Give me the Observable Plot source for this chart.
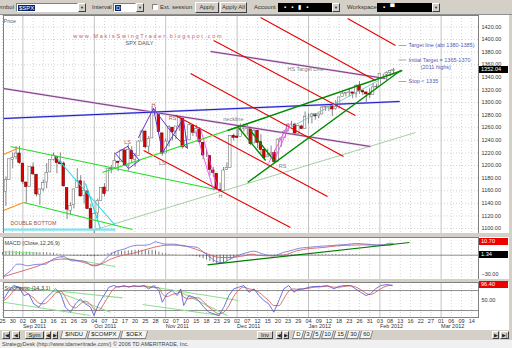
<!DOCTYPE html>
<html><head><meta charset="utf-8">
<script src="https://cdn.jsdelivr.net/npm/d3@7"></script>
<script src="https://cdn.jsdelivr.net/npm/@observablehq/plot@0.6"></script>
<style>
html,body{margin:0;padding:0}
body{width:512px;height:348px;overflow:hidden;background:#d4d0c8;position:relative;font-family:"Liberation Sans",Arial,sans-serif;font-size:6px;color:#222}
.a{position:absolute;white-space:nowrap}
.lbl{top:4px;line-height:7px;color:#333}
.inp{top:3px;height:9px;background:#fff;border:1px solid;border-color:#808080 #fff #fff #808080;box-sizing:border-box}
.sel{position:absolute;left:1px;top:1px;background:#0a246a;color:#fff;line-height:6px;padding:0 1px}
.dd{top:3px;width:8px;height:9px;background:#d4d0c8;border:1px solid;border-color:#fff #404040 #404040 #fff;box-sizing:border-box;font-size:4px;line-height:7px;text-align:center}
.btn{top:2px;height:11px;background:#d4d0c8;border:1px solid;border-color:#fff #404040 #404040 #fff;box-sizing:border-box;text-align:center;line-height:9px;color:#333}
.blk{top:3px;height:9px;background:#000;color:#fff;box-sizing:border-box;line-height:9px;font-size:6px;padding-left:6px;letter-spacing:5px}
.cb{top:4px;width:6px;height:6px;background:#fff;border:1px solid;border-color:#808080 #fff #fff #808080;box-sizing:border-box}
#price{left:0;top:15px}
#macd{left:0;top:237px}
#stoch{left:0;top:282px}
.flag{left:479px;width:29px;height:7px;line-height:7px;font-size:5.6px;color:#fff;padding-left:2px;box-sizing:border-box;z-index:5}
.tb{top:331px;height:8px;border:1px solid;border-color:#fff #404040 #404040 #fff;box-sizing:border-box;background:#d4d0c8;text-align:center;line-height:6px;font-size:5px}
.tab{top:331px;height:8px;border:1px solid #808080;border-top:none;box-sizing:border-box;background:#f4f4f4;text-align:center;line-height:7px;font-size:6px;transform:skewX(-15deg)}
.tab span{display:inline-block;transform:skewX(15deg)}
#foot{left:0;top:340px;width:512px;height:8px;background:#f0f0f0;font-size:5.5px;line-height:8px;color:#444;padding-left:2px;box-sizing:border-box}
</style></head><body>
<div class="a" style="left:0;top:0;width:512px;height:15px;background:#d4d0c8;border-bottom:1px solid #909090;box-sizing:border-box"></div>
<div class="a lbl" style="left:-6px">Symbol</div>
<div class="a inp" style="left:16px;width:62px"><span class="sel">$SPX</span></div>
<div class="a dd" style="left:78px">▼</div>
<div class="a lbl" style="left:92px">Interval</div>
<div class="a inp" style="left:113px;width:23px"><span class="sel">D</span></div>
<div class="a dd" style="left:136px">▼</div>
<div class="a cb" style="left:152px"></div>
<div class="a lbl" style="left:160px">Ext. session</div>
<div class="a btn" style="left:195px;width:24px">Apply</div>
<div class="a btn" style="left:220px;width:27px">Apply All</div>
<div class="a lbl" style="left:254px">Account</div>
<div class="a blk" style="left:278px;width:54px">▪▪▮▪</div>
<div class="a dd" style="left:332px">▼</div>
<div class="a lbl" style="left:347px">Workspace:</div>
<div class="a blk" style="left:377px;width:55px">▪▀</div>
<div class="a dd" style="left:432px">▼</div>

<div id="price" class="a"></div>
<div id="macd" class="a"></div>
<div id="stoch" class="a"></div>

<div class="a tb" style="left:2px;width:8px">|◀</div>
<div class="a tb" style="left:12px;width:8px">◀</div>
<div class="a tb" style="left:25px;width:19px;font-size:6px;line-height:6px">Sym</div>
<div class="a tb" style="left:45px;width:6px">◀</div>
<div class="a tb" style="left:52px;width:6px">▶</div>
<div class="a tab" style="left:61px;width:26px"><span>$INDU</span></div>
<div class="a tab" style="left:88px;width:32px"><span>$COMPX</span></div>
<div class="a tab" style="left:121px;width:26px"><span>$OEX</span></div>
<div class="a tb" style="left:257px;width:16px;font-size:6px;line-height:6px">Inv</div>
<div class="a tb" style="left:276px;width:6px">◀</div>
<div class="a tb" style="left:283px;width:6px">▶</div>
<div class="a tab" style="left:293px;width:10px;background:#fff"><span>D</span></div>
<div class="a tab" style="left:304px;width:8px"><span>3</span></div>
<div class="a tab" style="left:313px;width:8px"><span>5</span></div>
<div class="a tab" style="left:322px;width:11px"><span>10</span></div>
<div class="a tab" style="left:334px;width:12px"><span>15</span></div>
<div class="a tab" style="left:347px;width:12px"><span>30</span></div>
<div class="a tab" style="left:360px;width:12px"><span>60</span></div>
<div class="a tb" style="left:492px;width:7px">▶</div>
<div class="a tb" style="left:500px;width:9px">▶|</div>
<div id="foot" class="a">StrategyDesk (http://www.tdameritrade.com/) © 2006 TD AMERITRADE, Inc.</div>

<script>
// ---------- DATA ----------
const dates = ["2011-08-25","2011-08-26","2011-08-29","2011-08-30","2011-08-31",
"2011-09-01","2011-09-02","2011-09-06","2011-09-07","2011-09-08","2011-09-09","2011-09-12","2011-09-13","2011-09-14","2011-09-15","2011-09-16","2011-09-19","2011-09-20","2011-09-21","2011-09-22","2011-09-23","2011-09-26","2011-09-27","2011-09-28","2011-09-29","2011-09-30",
"2011-10-03","2011-10-04","2011-10-05","2011-10-06","2011-10-07","2011-10-10","2011-10-11","2011-10-12","2011-10-13","2011-10-14","2011-10-17","2011-10-18","2011-10-19","2011-10-20","2011-10-21","2011-10-24","2011-10-25","2011-10-26","2011-10-27","2011-10-28","2011-10-31",
"2011-11-01","2011-11-02","2011-11-03","2011-11-04","2011-11-07","2011-11-08","2011-11-09","2011-11-10","2011-11-11","2011-11-14","2011-11-15","2011-11-16","2011-11-17","2011-11-18","2011-11-21","2011-11-22","2011-11-23","2011-11-25","2011-11-28","2011-11-29","2011-11-30",
"2011-12-01","2011-12-02","2011-12-05","2011-12-06","2011-12-07","2011-12-08","2011-12-09","2011-12-12","2011-12-13","2011-12-14","2011-12-15","2011-12-16","2011-12-19","2011-12-20","2011-12-21","2011-12-22","2011-12-23","2011-12-27","2011-12-28","2011-12-29","2011-12-30",
"2012-01-03","2012-01-04","2012-01-05","2012-01-06","2012-01-09","2012-01-10","2012-01-11","2012-01-12","2012-01-13","2012-01-17","2012-01-18","2012-01-19","2012-01-20","2012-01-23","2012-01-24","2012-01-25","2012-01-26","2012-01-27","2012-01-30","2012-01-31",
"2012-02-01","2012-02-02","2012-02-03","2012-02-06","2012-02-07","2012-02-08","2012-02-09"];
const open = [1176,1158,1177,1209,1213,
1219,1203,1173,1166,1197,1185,1153,1162,1173,1189,1209,1214,1205,1203,1164,1128,1137,1164,1175,1152,1159,
1131,1097,1124,1144,1165,1159,1194,1196,1206,1206,1224,1200,1223,1209,1215,1238,1254,1230,1243,1284,1284,
1251,1219,1238,1260,1253,1262,1275,1230,1240,1263,1251,1257,1236,1216,1215,1192,1187,1161,1159,1193,1196,
1247,1246,1245,1258,1258,1260,1235,1255,1237,1225,1213,1217,1220,1206,1241,1244,1254,1265,1265,1250,1262,
1258,1277,1277,1281,1278,1281,1292,1293,1295,1290,1293,1309,1314,1315,1316,1314,1327,1318,1316,1314,
1312,1324,1326,1344,1344,1347,1350];
const high = [1190,1182,1210,1220,1230,
1230,1203,1173,1198,1204,1186,1163,1177,1203,1209,1220,1214,1220,1206,1164,1141,1163,1195,1184,1175,1159,
1138,1125,1147,1165,1171,1195,1200,1220,1207,1224,1224,1233,1230,1219,1239,1256,1254,1246,1293,1292,1284,
1251,1242,1263,1260,1262,1277,1275,1246,1266,1264,1264,1260,1237,1224,1215,1197,1187,1172,1197,1204,1247,
1250,1260,1266,1266,1267,1260,1258,1255,1249,1225,1226,1231,1224,1242,1245,1255,1265,1270,1267,1264,1264,
1285,1282,1283,1282,1282,1296,1294,1297,1295,1303,1308,1316,1315,1322,1316,1328,1333,1320,1316,1322,
1330,1329,1345,1345,1349,1351,1354];
const low = [1155,1135,1177,1195,1209,
1202,1170,1140,1166,1184,1150,1137,1158,1163,1189,1207,1187,1201,1166,1114,1121,1131,1164,1150,1139,1131,
1098,1075,1115,1144,1150,1159,1187,1196,1190,1206,1198,1191,1204,1197,1215,1238,1226,1220,1243,1281,1253,
1215,1219,1229,1239,1241,1254,1226,1227,1240,1246,1245,1235,1209,1213,1183,1181,1161,1158,1159,1192,1196,
1239,1243,1245,1253,1247,1231,1235,1227,1219,1209,1213,1215,1202,1206,1229,1243,1254,1262,1248,1250,1257,
1258,1266,1266,1272,1274,1281,1286,1286,1278,1288,1290,1309,1309,1309,1306,1307,1313,1311,1300,1306,
1312,1321,1326,1338,1335,1341,1344];
const close = [1159,1177,1210,1212,1219,
1204,1174,1166,1198,1186,1154,1162,1172,1188,1209,1216,1204,1202,1167,1130,1136,1162,1175,1151,1160,1131,
1099,1123,1144,1164,1155,1195,1195,1207,1204,1224,1200,1225,1210,1215,1238,1254,1229,1242,1285,1285,1253,
1219,1238,1261,1253,1262,1276,1229,1239,1264,1252,1258,1237,1216,1216,1193,1188,1162,1159,1192,1196,1247,
1244,1244,1257,1259,1262,1234,1255,1236,1225,1212,1216,1219,1205,1241,1243,1254,1265,1265,1250,1263,1258,
1277,1277,1281,1278,1281,1292,1293,1296,1289,1293,1308,1314,1315,1316,1314,1326,1318,1316,1313,1312,
1324,1325,1345,1344,1347,1350,1352.04];

// date axis (trading-day index) ticks
const tickIdx = [0,3,6,9,12,15,18,21,24,27,30,33,36,39,42,45,48,51,54,57,60,63,66,69,72,75,78,81,84,87,90,93,96,99,102,105,108,111,114,117,120,123,126,129,132,135,138];
const tickLabel = ["25","30","02","08","13","16","21","26","29","04","07","12","17","20","25","28","02","07","10","15","18","23","29","02","07","12","15","20","23","29","04","09","12","18","23","26","31","03","08","13","16","22","27","01","06","09","14"];
const monthIdx = [6,27,48,69,90,111,129];
const monthLabel = ["Sep 2011","Oct 2011","Nov 2011","Dec 2011","Jan 2012","Feb 2012","Mar 2012"];
const priceTicks = [1100,1120,1140,1160,1180,1200,1220,1240,1260,1280,1300,1320,1340,1360,1380,1400,1420];

// drawn trend lines: [index1, price1, index2, price2]
const redLines = [[101.5,1433.3,115.6,1390.5],[75.9,1434.9,109.7,1334.9],[62.1,1398.4,103.8,1279.4],[55.3,1346,100.3,1214.3],[50.9,1279.4,95.6,1150.8],[41.5,1223.8,84.7,1101.6]];
const purpleLines = [[0.3,1322.2,108.2,1230.2],[61.2,1381,112.6,1338.1]];
const blueLines = [[0.3,1274.6,116.8,1301.6]];
const brightGreenLines = [[2.35,1230.2,62.6,1161.9],[6.2,1141.3,38.2,1098.4],[29.4,1188.9,77.4,1276.2]];
const darkGreenLines = [[66.2,1255.6,117.6,1350.8],[72.1,1173,117.1,1350.8],[69.4,1260.3,77.4,1208],[72.9,1255.6,80.3,1204.8]];
const thinGreenLines = [[27.4,1098.4,121.5,1252.4]];
const cyanLines = [[15.6,1214.3,33.2,1104.8],[24.4,1171.4,28.8,1100]];
const cyanBase = [[0.3,1098.4,33.2,1098.4]];
const orangeLines = [[0.3,1217.5,4.4,1227],[0.3,1128.6,6.2,1141.3]];
const tealLines = [[81.8,1252.4,110.6,1334.9]];
const magentaLines = [[58.2,1258.7,63.5,1160.3],[56.8,1255.6,62.1,1160.3],[78.2,1203.2,84.1,1266.7],[80.3,1212.7,84.7,1266.7]];
const lsDiamond = [[36.8,1230.2],[40.3,1208],[37.1,1195.2],[33.2,1219],[36.8,1230.2]];
const headPath = [[40,1244.4],[44.4,1290.5],[47.1,1220.6],[53.2,1274.6],[54.4,1227],[50,1250.8],[44.4,1290.5]];

// annotations [index, price, text]
const redMarks = [[36.8,1236.5,"LS"],[44.4,1296,"H"],[50,1274.6,"RS"]];
const grayMarks = [[47,1203,"LS"],[64.1,1150.8,"H"],[82.4,1198.4,"RS"],[67.9,1273,"neckline"]];
const targetNotes = [[119.4,1390.5,"Target line (abt 1380-1385)"],[119.4,1367.5,"Initial Target = 1365-1370"],[123,1356.5,"(2011 highs)"],[119.4,1333.3,"Stop < 1335"]];
const leaderLines = [[116.5,1390.5,118.8,1390.5],[116.5,1367.5,118.8,1367.5],[116.5,1333.3,118.8,1333.3]];

// MACD panel
const macdLine = [[0.4,-33.3],[2.4,-25],[4.3,-14.5],[5.3,-14.5],[7.3,-17],[9.2,-15.5],[11.2,-14.5],[12.6,-14.5],[14.1,-9],[16.1,-3.7],[18,-2],[19,-5.3],[20.5,-9],[22.9,-9],[24.9,-11.8],[26.4,-17],[27.8,-17],[29.8,-9],[31.8,1.7],[33.7,7],[35.7,9.7],[37.6,14],[39.6,16],[41.6,16],[43.5,17.8],[45,21.6],[46.5,19.4],[47.9,17.8],[50.4,17.8],[52.8,15],[55.3,14],[57.3,12.4],[59.2,4.4],[61.2,-3.7],[63.1,-10.7],[64.6,-11.8],[67,-6.4],[69,-1],[72,4.4],[73.9,6.5],[76.7,1.7],[79.6,-1],[82.6,4.4],[84.5,7],[87.4,11.3],[89.4,12.4],[92.4,14],[95.3,15],[98.2,16.2],[101.2,17.3],[104.1,18.9],[107.1,17.8],[110,16.7],[112,16.7],[113.9,19.4],[114.9,18.3]];
const signalLine = [[0.4,-34.4],[9.2,-19.8],[17,-6.4],[19,-6.4],[23.9,-11.8],[26.9,-16],[28.8,-14.5],[31.8,-6.4],[34.7,-1],[38.6,3.3],[42.5,9.7],[46.5,15],[48.4,16.2],[52.4,16.2],[55.3,12.4],[58.2,7],[61.2,0],[64.1,-3.7],[67,-3.7],[70,-2],[73.9,1.7],[74.7,0],[78.6,-1],[82.6,0],[86.5,7],[90.4,10.8],[94.3,12.4],[98.2,15],[102.2,16.2],[106.1,16.7],[110,16.2],[113.9,16.2],[114.9,17.3]];
const macdHist = [4,6,6.5,6.5,6,5.5,5,5,5,4.5,4,4,4,4,3.5,3,
2,1.5,1,0.5,-1,-1.5,-1.5,-1.5,-1.5,-2,-2.5,-2.5,-2,-1,
1,2.5,3.5,5,5.5,6,6.5,7,7.5,7.5,8,8,8,7.5,7.5,7,5,
3,2,1.5,1,1,0.5,0,-0.5,-1,-1.5,-2.5,
-4,-6,-8,-10,-12,-14,-14.5,-13,-10,-7,-4,-1.5,
0.5,1,1.5,1.5,1,0.5,0.5,0.5,0.5,0.5,1,1,1,1,1,1,1,1,1,1,1,1,1,1,1,1,1,1,1,1,1,1,1,1,1,0.5,0.5,0.5,0.5,0.5,0,0,0,0,0,0];
const macdLightTrend = [[0.3,5.5,11.2,3.2],[17.1,-3.7,33.2,-18.2]];
const macdDarkTrend = [[60.3,-15.5,119.7,20.5]];
const macdTicks = [-30];

// Stochastic panel
const stochIdx = [0.4,1.9,3.3,4.8,6.3,7.7,9.2,10.7,12.2,14.1,15.6,17.1,18.5,20,21.5,22.9,24.4,25.9,26.9,28.3,29.8,31.3,32.7,34.2,35.7,37.2,38.6,40.1,41.6,43,44.5,46,47,48.4,49.9,51.4,52.4,53.3,54.8,56.3,57.7,59.2,60.7,62.2,63.6,65.1,66.6,68,69.5,71,72.5,74,75.4,76.9,78.3,79.8,81.3,82.7,84.2,85.7,87.2,88.6,90.1,91.6,93.5,95.5,97.5,98.9,100.4,102.4,103.8,105.3,106.9,108.2,109.7,111.2,113.1,114.6];
const stochK = [55,80,95,90,65,70,40,30,50,70,85,70,30,15,40,55,40,30,5,40,65,90,95,90,95,90,95,92,95,85,95,80,45,70,80,65,85,35,65,60,50,30,15,10,5,30,65,85,90,95,75,85,65,50,40,15,50,85,95,75,85,85,90,92,92,95,85,92,95,95,85,75,65,70,85,95,98,95];
const stochD = [50,62,80,90,80,68,58,42,40,55,72,78,60,35,28,40,48,38,25,20,40,65,85,92,92,92,92,93,93,90,90,88,70,62,68,72,75,60,55,58,58,45,30,18,10,15,35,62,82,90,85,82,75,62,50,35,35,55,78,85,83,85,87,90,91,93,90,90,92,94,91,83,72,68,75,85,94,96];
const stochTrend = [[3.2,91.9,15.6,77.8],[15,79.9,35.3,58],[15,79.9,31.8,14.8],[0.3,44.8,25.9,4.9],[41.5,94.9,69.4,49.9],[52.4,74.8,66.1,4.9],[41.2,37.9,64.1,4.9]];
const stochLevels = [80,20];
const stochTicks = [50];

// current-value flags
const priceFlag = {v: close[close.length-1], t: "1352.04"};
const macdFlags = [{v: 20.5, t: "10.70", bg: "#ee0000"}, {v: 0, t: "1.34", bg: "#000"}];
const stochFlag = {v: 96, t: "96.40"};

// ---------- RENDER ----------
const FONT = "Liberation Sans, Arial, sans-serif";
const W = 509, ML = 3, MR = 31;
const X = {domain: [0.294, 140], axis: null};
const seg = (data, o) => Plot.link(data, {x1: d => d[0], y1: d => d[1], x2: d => d[2], y2: d => d[3], clip: true, ...o});
const candles = dates.map((d, i) => ({i, o: open[i], h: high[i], l: low[i], c: close[i]}));
const tickMap = new Map(tickIdx.map((d, i) => [d, tickLabel[i]]));
const monthMap = new Map(monthIdx.map((d, i) => [d, monthLabel[i]]));
const minorIdx = tickIdx.filter(d => !monthMap.has(d));
const gridX = [
  Plot.ruleX(minorIdx, {x: d => d, stroke: "#b8b8b8", strokeWidth: 0.6, strokeDasharray: "1,2"}),
  Plot.ruleX(monthIdx, {x: d => d, stroke: "#b4b4b4", strokeWidth: 0.8})
];
const f2 = d3.format(".2f");

function flag(svg, top, v, label, bg) {
  const y = svg.scale("y").apply(v);
  const div = document.createElement("div");
  div.className = "a flag";
  div.style.top = (top + y - 3.5) + "px";
  div.style.background = bg;
  div.textContent = label;
  document.body.append(div);
}

// Price panel
const price = Plot.plot({
  width: W, height: 218, marginLeft: ML, marginRight: MR, marginTop: 0, marginBottom: 0,
  style: {background: "#fff", fontFamily: FONT, overflow: "hidden"},
  x: X, y: {domain: [1092.1, 1438.1], axis: null},
  marks: [
    Plot.ruleY(priceTicks, {y: d => d, stroke: "#b8b8b8", strokeWidth: 0.6, strokeDasharray: "1,2"}),
    ...gridX,
    Plot.ruleX(candles, {x: "i", y1: "l", y2: "h", stroke: "#555", strokeWidth: 0.7, clip: true}),
    Plot.rect(candles, {x1: d => d.i - 0.37, x2: d => d.i + 0.37, y1: d => Math.min(d.o, d.c), y2: d => Math.max(d.o, d.c),
      fill: d => d.c >= d.o ? "#fff" : "#d80000", stroke: d => d.c >= d.o ? "#777" : "#700000", strokeWidth: 0.6, clip: true}),
    seg(cyanBase, {stroke: "#7fe6f0", strokeWidth: 2.2}),
    seg(thinGreenLines, {stroke: "#8cc48c", strokeWidth: 0.8}),
    seg(purpleLines, {stroke: "#d8c0e0", strokeWidth: 2.2}),
    seg(purpleLines, {stroke: "#7a2a7a", strokeWidth: 0.9}),
    seg(blueLines, {stroke: "#b8b8f0", strokeWidth: 2}),
    seg(blueLines, {stroke: "#1a1ac8", strokeWidth: 1}),
    seg(redLines, {stroke: "#e80000", strokeWidth: 1.1}),
    seg(brightGreenLines, {stroke: "#22e022", strokeWidth: 1.2}),
    seg(darkGreenLines, {stroke: "#008a00", strokeWidth: 1.4}),
    seg(cyanLines, {stroke: "#22d8e8", strokeWidth: 1.1}),
    seg(orangeLines, {stroke: "#ff8c1a", strokeWidth: 1.1}),
    seg(tealLines, {stroke: "#6cbcbc", strokeWidth: 0.8}),
    seg(magentaLines, {stroke: "#ff33ff", strokeWidth: 0.8}),
    Plot.line(lsDiamond, {x: d => d[0], y: d => d[1], stroke: "#6a30d0", strokeWidth: 1, clip: true}),
    Plot.line(headPath, {x: d => d[0], y: d => d[1], stroke: "#6a30d0", strokeWidth: 1, clip: true}),
    seg(leaderLines, {stroke: "#909090", strokeWidth: 0.8}),
    Plot.text(redMarks, {x: d => d[0], y: d => d[1], text: d => d[2], fill: "#c05050", fontSize: 5.5}),
    Plot.text(grayMarks, {x: d => d[0], y: d => d[1], text: d => d[2], fill: "#808080", fontSize: 5.5}),
    Plot.text([[83.8,1352.4,"HS Target Line"]], {x: d => d[0], y: d => d[1], text: d => d[2], fill: "#808080", fontSize: 5.5, textAnchor: "start"}),
    Plot.text(targetNotes, {x: d => d[0], y: d => d[1], text: d => d[2], fill: "#5a5ab4", fontSize: 5.5, textAnchor: "start"}),
    Plot.text([[42.9,1404.8,"www.MakisSwingTrader.blogspot.com"]], {x: d => d[0], y: d => d[1], text: d => d[2], fill: "#c86060", fontSize: 5.5}),
    Plot.text([[40.3,1393.7,"SPX DAILY"]], {x: d => d[0], y: d => d[1], text: d => d[2], fill: "#555", fontSize: 5.5}),
    Plot.text([[2.35,1108,"DOUBLE BOTTOM"]], {x: d => d[0], y: d => d[1], text: d => d[2], fill: "#a05050", fontSize: 5.3, textAnchor: "start"}),
    Plot.text(["Price"], {frameAnchor: "top-left", dx: 0, dy: 4, text: d => d, fill: "#666", fontSize: 5.5}),
    Plot.text(priceTicks, {y: d => d, frameAnchor: "right", dx: 3, textAnchor: "start", text: d => f2(d), fill: "#333", fontSize: 5.5}),
    Plot.frame({stroke: "#808080"})
  ]
});
d3.select(price).selectAll("text").filter(function() { return this.textContent.startsWith("www."); })
  .attr("letter-spacing", "1.75px");
document.getElementById("price").append(price);
flag(price, 15, priceFlag.v, priceFlag.t, "#000");

// MACD panel
const macd = Plot.plot({
  width: W, height: 42, marginLeft: ML, marginRight: MR, marginTop: 0, marginBottom: 0,
  style: {background: "#fff", fontFamily: FONT, overflow: "hidden"},
  x: X, y: {domain: [-39.19, 28.55], axis: null},
  marks: [
    ...gridX,
    Plot.ruleY([0], {stroke: "#707070", strokeWidth: 0.8}),
    Plot.ruleX(macdHist, {x: (d, i) => i, y1: 0, y2: d => d, stroke: "#222", strokeWidth: 0.6}),
    seg(macdLightTrend, {stroke: "#90e090", strokeWidth: 1.1}),
    Plot.line(signalLine, {x: d => d[0], y: d => d[1], stroke: "#d86060", strokeWidth: 0.9, curve: "monotone-x"}),
    Plot.line(macdLine, {x: d => d[0], y: d => d[1], stroke: "#6a6ad8", strokeWidth: 0.8, curve: "monotone-x"}),
    seg(macdDarkTrend, {stroke: "#007a00", strokeWidth: 1.2}),
    Plot.text(["MACD (Close,12,26,9)"], {frameAnchor: "top-left", dx: 1, dy: 4, text: d => d, fill: "#444", fontSize: 5.5}),
    Plot.text(macdTicks, {y: d => d, frameAnchor: "right", dx: 3, textAnchor: "start", text: d => f2(d), fill: "#333", fontSize: 5.5}),
    Plot.frame({stroke: "#808080"})
  ]
});
document.getElementById("macd").append(macd);
macdFlags.forEach(f => flag(macd, 237, f.v, f.t, f.bg));

// Stochastic panel + date axis
const stochData = stochIdx.map((d, i) => ({i: d, k: stochK[i], d: stochD[i]}));
const stoch = Plot.plot({
  width: W, height: 48, marginLeft: ML, marginRight: MR, marginTop: 0, marginBottom: 13,
  style: {background: "#fff", fontFamily: FONT, overflow: "hidden"},
  x: X, y: {domain: [-0.9, 104.1], axis: null},
  marks: [
    ...gridX,
    Plot.ruleY(stochLevels, {y: d => d, stroke: "#707070", strokeWidth: 0.8}),
    seg(stochTrend, {stroke: "#8ee08e", strokeWidth: 1.1}),
    Plot.line(stochData, {x: "i", y: "d", stroke: "#d05050", strokeWidth: 0.8, curve: "monotone-x"}),
    Plot.line(stochData, {x: "i", y: "k", stroke: "#5050d0", strokeWidth: 0.8}),
    Plot.text(["Stochastic (14,3,1)"], {frameAnchor: "top-left", dx: 1, dy: 3.5, text: d => d, fill: "#444", fontSize: 5.5}),
    Plot.text(stochTicks, {y: d => d, frameAnchor: "right", dx: 3, textAnchor: "start", text: d => f2(d), fill: "#333", fontSize: 5.5}),
    Plot.frame({stroke: "#808080"}),
    Plot.text(tickIdx, {x: d => d, frameAnchor: "bottom", dy: 5, text: d => tickMap.get(d), fill: "#333", fontSize: 5.5}),
    Plot.text(monthIdx, {x: d => d, frameAnchor: "bottom", dy: 10, text: d => monthMap.get(d), fill: "#333", fontSize: 5.5, textAnchor: "start"})
  ]
});
document.getElementById("stoch").append(stoch);
flag(stoch, 282, stochFlag.v, stochFlag.t, "#ee0000");
</script>
</body></html>
